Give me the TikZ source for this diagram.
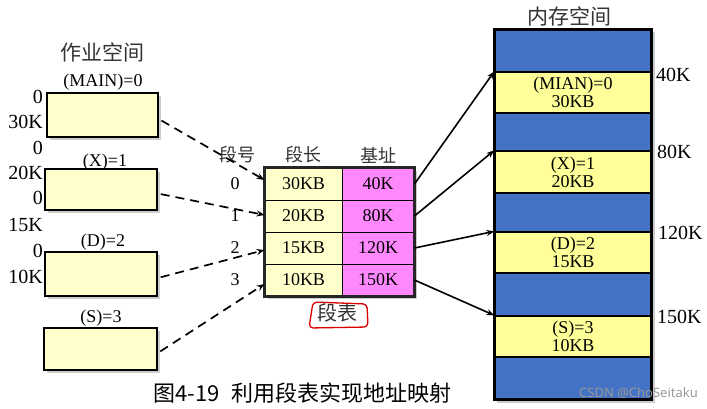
\documentclass[tikz,border=0pt]{standalone}
\usepackage{fontspec}
\setmainfont{Liberation Serif}
\newfontfamily\cjk{Noto Sans CJK SC}
\newfontfamily\wmfont{Noto Sans}
\usetikzlibrary{arrows.meta,shadows,calc,backgrounds}
\definecolor{lyel}{HTML}{FFFFCC}
\definecolor{myel}{HTML}{FFFF99}
\definecolor{mblue}{HTML}{4472C4}
\definecolor{mpink}{HTML}{FF88FF}
\newcommand{\myfs}[1]{\fontsize{#1}{#1}\selectfont}
\begin{document}
\begin{tikzpicture}[x=1pt,y=-1pt,
  lbox/.style={draw=black, line width=1.6pt, fill=lyel, inner sep=0pt,
    drop shadow={shadow xshift=2.5pt, shadow yshift=-2.5pt, fill=black, opacity=0.2}},
  lbl/.style={font=\myfs{20}, inner sep=0pt},
  sml/.style={font=\myfs{18}, inner sep=0pt},
  cjkt/.style={font=\cjk\myfs{21}, inner sep=0pt, text=black!80},
  cell/.style={draw=black, line width=0.9pt, minimum height=32pt, inner sep=0pt, font=\myfs{18}},
  mband/.style={draw=black, line width=1.3pt, minimum width=156pt, inner sep=0pt, align=center, font=\myfs{18}},
  dashar/.style={dash pattern=on 9pt off 6pt, line width=1.7pt, -{Stealth[length=8pt,width=6pt]}},
  solar/.style={line width=1.6pt, -{Stealth[length=8pt,width=6pt]}}
]
\useasboundingbox (0,0) rectangle (707,408);

% titles
\node[cjkt] (tjob) at (102,52) {作业空间};
\node[cjkt] (tmem) at (569,16) {内存空间};

% left boxes
\node[lbox, minimum width=111pt, minimum height=44pt] (b0) at (102.5,115) {};
\node[lbox, minimum width=112pt, minimum height=41pt] (b1) at (101,189.5) {};
\node[lbox, minimum width=112pt, minimum height=44pt] (b2) at (101,274) {};
\node[lbox, minimum width=113pt, minimum height=42pt] (b3) at (100.5,349) {};

\node[sml] (bl0) at (103,82) {(MAIN)=0};
\node[sml] (bl1) at (105,162) {(X)=1};
\node[sml] (bl2) at (103,242) {(D)=2};
\node[sml] (bl3) at (101,318) {(S)=3};

% left size labels
\node[lbl, anchor=east] (s0a) at (43,97) {0};
\node[lbl, anchor=east] (s0b) at (43,122) {30K};
\node[lbl, anchor=east] (s1a) at (43,148) {0};
\node[lbl, anchor=east] (s1b) at (43,173) {20K};
\node[lbl, anchor=east] (s2a) at (43,198) {0};
\node[lbl, anchor=east] (s2b) at (43,225) {15K};
\node[lbl, anchor=east] (s3a) at (43,251) {0};
\node[lbl, anchor=east] (s3b) at (43,277) {10K};

% segment table
\node[cjkt, font=\cjk\myfs{18}] (h0) at (237,155) {段号};
\node[cjkt, font=\cjk\myfs{18}] (h1) at (303,155) {段长};
\node[cjkt, font=\cjk\myfs{18}] (h2) at (378,155) {基址};

\node[sml] (i0) at (235,184) {0};
\node[sml] (i1) at (235,216) {1};
\node[sml] (i2) at (235,248) {2};
\node[sml] (i3) at (235,280) {3};

\node[cell, fill=lyel, minimum width=77pt] (l0) at (303.5,184) {30KB};
\node[cell, fill=lyel, minimum width=77pt] (l1) at (303.5,216) {20KB};
\node[cell, fill=lyel, minimum width=77pt] (l2) at (303.5,248) {15KB};
\node[cell, fill=lyel, minimum width=77pt] (l3) at (303.5,280) {10KB};
\node[cell, fill=mpink, minimum width=72pt] (a0) at (378,184) {40K};
\node[cell, fill=mpink, minimum width=72pt] (a1) at (378,216) {80K};
\node[cell, fill=mpink, minimum width=72pt] (a2) at (378,248) {120K};
\node[cell, fill=mpink, minimum width=72pt] (a3) at (378,280) {150K};
\draw[line width=2.2pt, black!85] (l0.north west) rectangle (a3.south east);
\begin{scope}[on background layer]
  \fill[black!20] ($(l0.north west)+(3,3)$) rectangle ($(a3.south east)+(3,3)$);
\end{scope}

\node[cjkt, font=\cjk\myfs{20}] (ttab) at (337,313) {段表};
\draw[red!85!black, line width=1.3pt, rounded corners=4pt, line join=round]
  (313,302) -- (309,328) -- (368,327) -- (367,304) -- cycle;

% memory
\node[mband, fill=mblue, minimum height=42pt] (m0) at (573,51) {};
\node[mband, fill=myel, minimum height=41pt] (m1) at (573,92.5) {\baselineskip=19pt (MIAN)=0\\30KB};
\node[mband, fill=mblue, minimum height=38pt] (m2) at (573,132) {};
\node[mband, fill=myel, minimum height=42pt] (m3) at (573,172) {\baselineskip=19pt (X)=1\\20KB};
\node[mband, fill=mblue, minimum height=39pt] (m4) at (573,212.5) {};
\node[mband, fill=myel, minimum height=41pt] (m5) at (573,252.5) {\baselineskip=19pt (D)=2\\15KB};
\node[mband, fill=mblue, minimum height=43pt] (m6) at (573,294.5) {};
\node[mband, fill=myel, minimum height=41pt] (m7) at (573,336.5) {\baselineskip=19pt (S)=3\\10KB};
\node[mband, fill=mblue, minimum height=42pt] (m8) at (573,378) {};
\draw[line width=2.2pt] (m0.north west) rectangle (m8.south east);
\begin{scope}[on background layer]
  \fill[black!20] ($(m0.north west)+(3,3)$) rectangle ($(m8.south east)+(3,3)$);
\end{scope}

\node[lbl, anchor=west] (r0) at (656,75) {40K};
\node[lbl, anchor=west] (r1) at (657,152) {80K};
\node[lbl, anchor=west] (r2) at (658,233) {120K};
\node[lbl, anchor=west] (r3) at (657,317) {150K};

% connectors
\draw[dashar, shorten <=3pt] ([yshift=-4pt]b0.east) -- ([yshift=4pt]l0.west);
\draw[dashar, shorten <=3pt] ([yshift=-4pt]b1.east) -- ([yshift=1pt]l1.west);
\draw[dashar, shorten <=3pt] ([yshift=-4pt]b2.east) -- ([yshift=-2pt]l2.west);
\draw[dashar, shorten <=3pt] ([yshift=-4pt]b3.east) -- ([yshift=-4pt]l3.west);

\draw[solar] (a0.east) -- (m1.north west);
\draw[solar] (a1.east) -- (m3.north west);
\draw[solar] (a2.east) -- (m5.north west);
\draw[solar] (a3.east) -- (m7.north west);

% caption and watermark
\node[anchor=west, inner sep=0pt, font=\cjk\myfs{22}] (cap) at (153,393) {图4-19\hspace{12pt}利用段表实现地址映射};
\node[anchor=west, inner sep=0pt, font=\wmfont\myfs{13}, text=black!40] (wm) at (579,393) {CSDN @ChoSeitaku};
\end{tikzpicture}
\end{document}
